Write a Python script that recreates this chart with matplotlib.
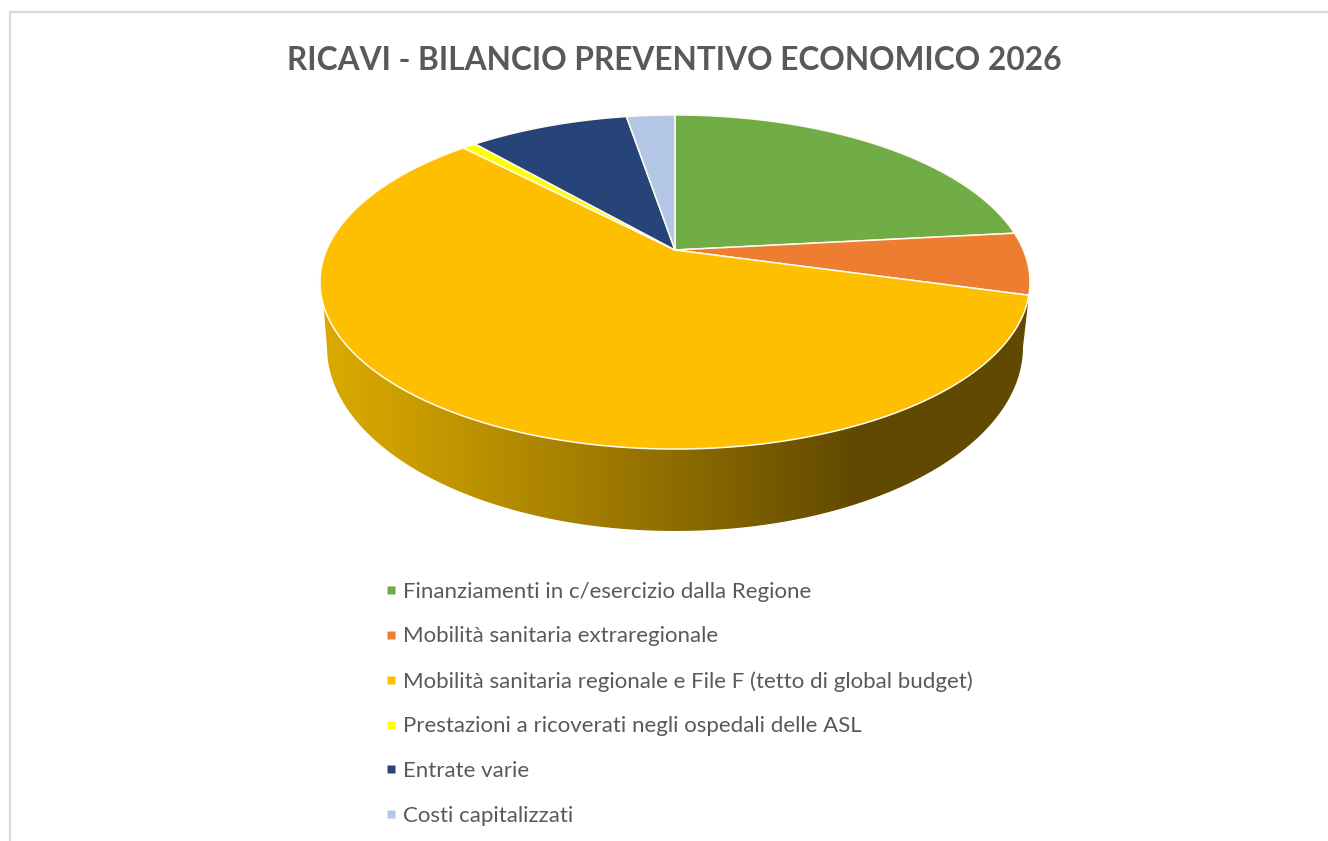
import numpy as np
import matplotlib
matplotlib.use("Agg")
import matplotlib.pyplot as plt
from matplotlib.colors import LinearSegmentedColormap
from matplotlib.lines import Line2D
from matplotlib.patches import PathPatch
from matplotlib.path import Path

# ---- data -------------------------------------------------------------
title = "RICAVI - BILANCIO PREVENTIVO ECONOMICO 2026"
categories = [
    "Finanziamenti in c/esercizio dalla Regione",
    "Mobilità sanitaria extraregionale",
    "Mobilità sanitaria regionale e File F (tetto di global budget)",
    "Prestazioni a ricoverati negli ospedali delle ASL",
    "Entrate varie",
    "Costi capitalizzati",
]
values = [23.3, 6.0, 58.55, 0.75, 8.75, 2.65]
colors = ["#70AD47", "#ED7D31", "#FDBF00", "#FFFF00", "#264478", "#B4C7E7"]

# ---- style / geometry --------------------------------------------------
plt.rcParams["font.family"] = ["Lato", "DejaVu Sans"]
W, H = 1328, 841
TEXT = "#595959"
fig = plt.figure(figsize=(W / 100, H / 100), dpi=100)
ax = fig.add_axes([0, 0, 1, 1])
ax.set_xlim(0, W)
ax.set_ylim(H, 0)
ax.axis("off")

# perspective projection of the unit disc onto the picture plane
CX, CY = 675, 250
K, C, A = 0.1916, 160.9, 348.4


def project(theta):
    """theta is clockwise from 12 o'clock, radians."""
    u, v = np.sin(theta), np.cos(theta)
    d = 1 + K * v
    return CX + A * u / d, CY - C * v / d


# top face
edges = np.concatenate([[0], np.cumsum(values)]) / np.sum(values) * 2 * np.pi
for start, stop, col in zip(edges[:-1], edges[1:], colors):
    t = np.linspace(start, stop, max(int((stop - start) * 120), 6))
    x, y = project(t)
    ax.fill(np.r_[CX, x], np.r_[CY, y], facecolor=col, edgecolor="#FFFBEF",
            linewidth=1.1, joinstyle="round", zorder=3)

# side wall with horizontal shading
t_rim = np.linspace(np.deg2rad(105), np.deg2rad(251), 400)
ux, uy = project(t_rim)
phi = np.linspace(0, np.pi, 400)
lx = 675 + 348 * np.cos(phi)
ly = 347 + 184 * np.sin(phi)
verts = np.column_stack([np.r_[ux, lx[::-1], ux[0]],
                         np.r_[uy, ly[::-1], uy[0]]])
side = PathPatch(Path(verts), facecolor="none", edgecolor="none", zorder=1)
ax.add_patch(side)
shade = LinearSegmentedColormap.from_list(
    "side", [(0.0, "#DCAA00"), (0.13, "#C99C00"), (0.33, "#AA8400"),
             (0.5, "#8E6C00"), (0.76, "#604900"), (1.0, "#604900")])
im = ax.imshow(np.linspace(0, 1, 512)[None, :], extent=(320, 1030, 540, 280),
               cmap=shade, aspect="auto", zorder=1, interpolation="bilinear")
im.set_clip_path(side)
ax.set_xlim(0, W)
ax.set_ylim(H, 0)

# title
ax.text(674.5, 60, title, ha="center", va="center", fontsize=22.8,
        fontweight="bold", color=TEXT)

# legend
handles = [Line2D([], [], linestyle="none", marker="s", markersize=5.8,
                  markerfacecolor=c, markeredgecolor="none") for c in colors]
ax.legend(handles, categories, loc="upper left", bbox_to_anchor=(385.4 / W, 1 - 581.5 / H),
          frameon=False, fontsize=16.0, labelcolor=TEXT, handlelength=0.5,
          handletextpad=0.29, labelspacing=1.115, borderpad=0, borderaxespad=0)

# chart-area frame
ax.plot([9.5, 9.5, W], [H, 12, 12], color="#D9D9D9", lw=1.6, zorder=0,
        solid_joinstyle="miter")

fig.savefig("out.png", dpi=100)
